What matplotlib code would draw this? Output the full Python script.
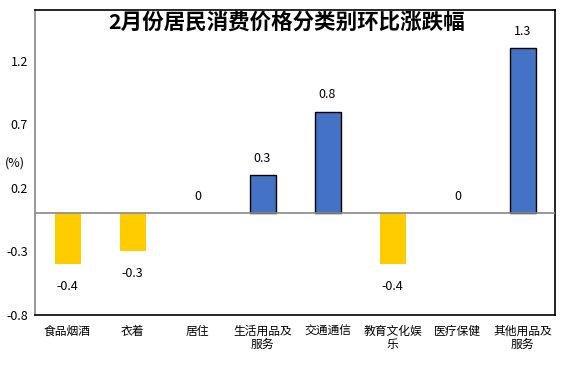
import matplotlib
matplotlib.use("Agg")
import matplotlib.pyplot as plt
import numpy as np

plt.rcParams['font.family'] = ['Noto Sans CJK SC', 'DejaVu Sans']

categories = ['食品烟酒', '衣着', '居住', '生活用品及\n服务', '交通通信',
              '教育文化娱\n乐', '医疗保健', '其他用品及\n服务']
values = [-0.4, -0.3, 0, 0.3, 0.8, -0.4, 0, 1.3]
labels = ['-0.4', '-0.3', '0', '0.3', '0.8', '-0.4', '0', '1.3']
yticks = [-0.8, -0.3, 0.2, 0.7, 1.2]

fig = plt.figure(figsize=(5.75, 3.74), dpi=100)
ax = fig.add_axes([35/575, 59/374, 520/575, 305/374])

x = np.arange(len(categories))
cols = ['#FFCC00' if v < 0 else '#4472C4' for v in values]
edges = ['black' if v > 0 else 'none' for v in values]
ax.bar(x, values, width=0.4, color=cols, edgecolor=edges, linewidth=1.0, zorder=3)

for xi, v, t in zip(x, values, labels):
    if v < 0:
        ax.annotate(t, (xi, v), xytext=(0, -16), textcoords='offset points',
                    ha='center', va='center', fontsize=9)
    else:
        ax.annotate(t, (xi, v), xytext=(0, 12), textcoords='offset points',
                    ha='center', va='center', fontsize=9)

ax.axhline(0, color='#888888', linewidth=1.2, zorder=4)
ax.set_xlim(-0.5, len(categories) - 0.5)
ax.set_ylim(-0.8, 1.6)
ax.set_yticks(yticks)
ax.set_yticklabels(['-0.8', '-0.3', '0.2', '0.7', '1.2'], fontsize=9)
ax.set_xticks(x)
ax.set_xticklabels(categories, fontsize=8.5, linespacing=1.0, va='top')
ax.tick_params(axis='both', length=0)
ax.tick_params(axis='x', pad=7)
ax.tick_params(axis='y', pad=5)

ax.spines['left'].set_color('#888888')
for s in ['top', 'right', 'bottom']:
    ax.spines[s].set_color('black')
for s in ax.spines.values():
    s.set_linewidth(1.2)

fig.text(15/575, 1 - 163/374, '(%)', ha='center', va='center', fontsize=9)
fig.text(287/575, 1 - 22/374, '2月份居民消费价格分类别环比涨跌幅',
         ha='center', va='center', fontsize=15.5, fontweight='bold')

fig.savefig('out.png', dpi=100)
